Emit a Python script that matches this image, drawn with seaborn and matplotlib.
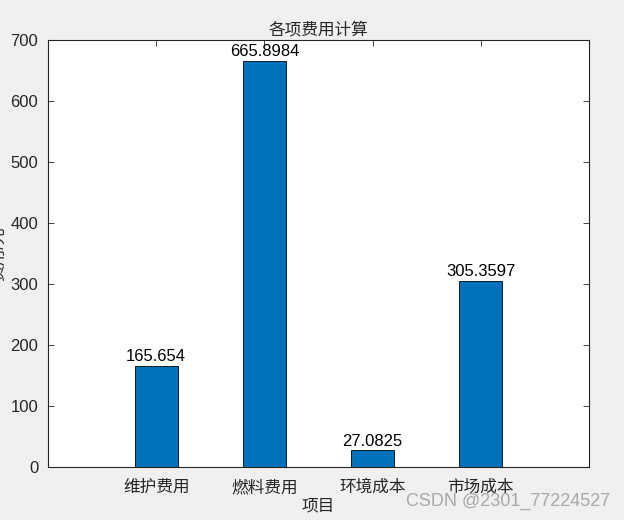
import matplotlib
matplotlib.use("Agg")
import matplotlib.pyplot as plt
import seaborn as sns
import pandas as pd

items = ["维护费用", "燃料费用", "环境成本", "市场成本"]
costs = [165.654, 665.8984, 27.0825, 305.3597]
cost_labels = ["165.654", "665.8984", "27.0825", "305.3597"]

sns.set_style("ticks")
plt.rcParams["font.family"] = ["Liberation Sans", "Noto Sans CJK SC"]

df = pd.DataFrame({"项目": items, "费用": costs})

fig = plt.figure(figsize=(6.24, 5.20), dpi=100, facecolor="#f0f0f0")
ax = fig.add_axes([0.077, 0.102, 0.867, 0.821])
sns.barplot(data=df, x="项目", y="费用", order=items, color="#0072BD",
            saturation=1, width=0.4, edgecolor="black", linewidth=0.6, ax=ax)

for i, (v, lab) in enumerate(zip(costs, cost_labels)):
    ax.text(i, v + 3, lab, ha="center", va="bottom", fontsize=12, color="black")

ax.set_xlim(-1, 4)
ax.set_ylim(0, 700)
ax.set_yticks(range(0, 701, 100))
ax.tick_params(direction="in", top=True, right=True, labelsize=12,
               colors="#262626", length=4, width=0.6)
ax.tick_params(axis="x", pad=9)
ax.tick_params(axis="y", pad=7)
for s in ax.spines.values():
    s.set_linewidth(0.8)
    s.set_color("#262626")
ax.set_title("各项费用计算", fontsize=12, color="#262626", pad=4)
ax.set_xlabel("项目", fontsize=12, color="#262626", labelpad=2)
ax.set_ylabel("费用/元", fontsize=12, color="#262626")
ax.yaxis.set_label_coords(-0.078, 0.5)

fig.text(0.978, 0.02, "CSDN @2301_77224527", ha="right", va="bottom",
         fontsize=13, color="#a8a8a8")

fig.savefig("out.png", dpi=100, facecolor=fig.get_facecolor())
